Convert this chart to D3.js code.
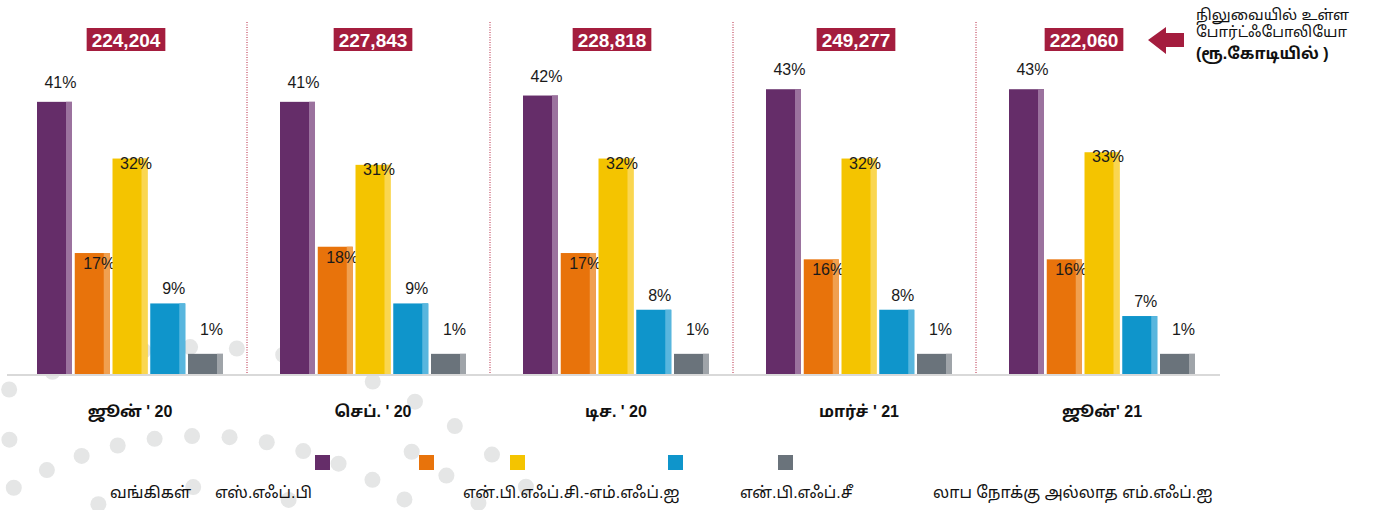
<!DOCTYPE html>
<html>
<head>
<meta charset="utf-8">
<script src="https://cdn.jsdelivr.net/npm/d3@7"></script>
<style>
  body { margin: 0; background: #fff; }
  svg text { font-family: "Liberation Sans", Arial, "Noto Sans Tamil", "Lohit Tamil", sans-serif; }
</style>
</head>
<body>
<div id="chart"></div>
<script>
// quarters and portfolio outstanding (Rs crore)
const categories = ["ஜூன் ' 20", "செப். ' 20", "டிச. ' 20", "மார்ச் ' 21", "ஜூன்' 21"];
const totals = [224204, 227843, 228818, 249277, 222060];

// share of portfolio by lender type (%)
const series = ["வங்கிகள்", "எஸ்.எஃப்.பி", "என்.பி.எஃப்.சி.-எம்.எஃப்.ஐ", "என்.பி.எஃப்.சீ", "லாப நோக்கு அல்லாத எம்.எஃப்.ஐ"];
const banks = [41, 41, 42, 43, 43];
const sfb = [17, 18, 17, 16, 16];
const nbfcMfi = [32, 31, 32, 32, 33];
const nbfc = [9, 9, 8, 8, 7];
const notForProfit = [1, 1, 1, 1, 1];

const noteLines = ["நிலுவையில் உள்ள", "போர்ட்ஃபோலியோ", "(ரூ.கோடியில் )"];

const colors = ["#652d69", "#e8730b", "#f4c400", "#0f95cb", "#6a737b"];
const lightColors = ["#9b729e", "#f0a050", "#fad650", "#58b6de", "#9fa4a9"];

const values = [banks, sfb, nbfcMfi, nbfc, notForProfit];
const rows = categories.map((c, i) => ({
    cat: c,
    total: totals[i],
    bars: series.map((s, j) => ({ key: s, idx: j, value: values[j][i] }))
}));

const W = 1385, H = 510;
const baseY = 374;
const crimson = "#a41d3e";

const svg = d3.select("#chart").append("svg")
    .attr("width", W)
    .attr("height", H);

svg.append("rect").attr("width", W).attr("height", H).attr("fill", "#fff");

// decorative dot arcs in the background
const dotCenter = [200, 797];
const arcs = [
    { r: 450, ks: d3.range(-4, 9) },
    { r: 405, ks: [-4.5, 5.5, 6.5, 7.5] },
    { r: 361, ks: d3.range(-5, 7) },
    { r: 310, ks: [-3, 0, 3] }
];
const dots = [];
arcs.forEach(a => a.ks.forEach(k => {
    const t = -0.022 + 0.104 * k;
    dots.push([dotCenter[0] + a.r * Math.sin(t), dotCenter[1] - a.r * Math.cos(t)]);
}));
svg.append("g").selectAll("circle")
    .data(dots)
    .join("circle")
    .attr("cx", d => d[0])
    .attr("cy", d => d[1])
    .attr("r", 8)
    .attr("fill", "#e5e6e6");

const x0 = d3.scaleBand()
    .domain(categories)
    .range([8.5, 8.5 + 243 * 5])
    .paddingInner(57 / 243)
    .paddingOuter(28.5 / 243);

const x1 = d3.scaleBand()
    .domain(series)
    .range([0, x0.bandwidth()])
    .paddingInner(0.073);

const y = d3.scaleLinear()
    .domain([-2.2, 45])
    .range([baseY, baseY - 47.2 * 6.3]);

// axis line
svg.append("line")
    .attr("x1", 7).attr("x2", 1220)
    .attr("y1", baseY + 1).attr("y2", baseY + 1)
    .attr("stroke", "#d9d9d9")
    .attr("stroke-width", 2);

// dotted separators
svg.append("g").selectAll("line")
    .data(categories.slice(1))
    .join("line")
    .attr("x1", d => x0(d) - 33).attr("x2", d => x0(d) - 33)
    .attr("y1", 22).attr("y2", baseY)
    .attr("stroke", "#b5233f")
    .attr("stroke-width", 1)
    .attr("stroke-dasharray", "1,1.5");

const groups = svg.append("g").selectAll("g")
    .data(rows)
    .join("g")
    .attr("transform", d => `translate(${x0(d.cat)},0)`);

const bar = groups.selectAll("g.bar")
    .data(d => d.bars)
    .join("g")
    .attr("class", "bar");

const stripW = 6;
bar.append("rect")
    .attr("x", d => x1(d.key))
    .attr("y", d => y(d.value))
    .attr("width", x1.bandwidth())
    .attr("height", d => baseY - y(d.value))
    .attr("fill", d => colors[d.idx]);

bar.append("rect")
    .attr("x", d => x1(d.key) + x1.bandwidth() - stripW)
    .attr("y", d => y(d.value))
    .attr("width", stripW)
    .attr("height", d => baseY - y(d.value))
    .attr("fill", d => lightColors[d.idx]);

// value label offsets per series: [dx from bar centre, dy from bar top]
const labelOffset = [[6, -14], [7, 16], [6, 10], [6, -9], [6, -19]];
bar.append("text")
    .attr("x", d => x1(d.key) + x1.bandwidth() / 2 + labelOffset[d.idx][0])
    .attr("y", d => y(d.value) + labelOffset[d.idx][1])
    .attr("text-anchor", "middle")
    .attr("font-size", 16)
    .attr("fill", "#1a1a1a")
    .text(d => d.value + "%");

// category labels
groups.append("text")
    .attr("x", x0.bandwidth() / 2)
    .attr("y", 417)
    .attr("text-anchor", "middle")
    .attr("font-size", 16)
    .attr("font-weight", "bold")
    .attr("fill", "#111")
    .text(d => d.cat);

// total boxes
const boxShift = [-4, 0, -4, -3, -18];
const fmt = d3.format(",");
groups.each(function (d, i) {
    const g = d3.select(this);
    const cx = x0.bandwidth() / 2 + boxShift[i];
    const box = g.append("rect")
        .attr("y", 28)
        .attr("height", 23)
        .attr("fill", crimson);
    const t = g.append("text")
        .attr("x", cx)
        .attr("y", 46.5)
        .attr("text-anchor", "middle")
        .attr("font-size", 19)
        .attr("font-weight", "bold")
        .attr("fill", "#fff")
        .text(fmt(d.total));
    const w = t.node().getComputedTextLength() + 10;
    box.attr("x", cx - w / 2).attr("width", w);
});

// arrow and note on the right
svg.append("path")
    .attr("d", "M1148,40 L1166,27 L1166,33 L1184,33 L1184,47 L1166,47 L1166,54 Z")
    .attr("fill", crimson);

svg.append("g").selectAll("text")
    .data(noteLines)
    .join("text")
    .attr("x", 1196)
    .attr("y", (d, i) => [20, 37, 59][i])
    .attr("font-size", (d, i) => i === 2 ? 16 : 15)
    .attr("font-weight", (d, i) => i === 2 ? "bold" : "normal")
    .attr("fill", "#111")
    .text(d => d);

// legend
const swatchX = [315, 419, 510, 668, 778];
const legendTextX = [110, 215, 463, 740, 933];
svg.append("g").selectAll("rect")
    .data(series)
    .join("rect")
    .attr("x", (d, i) => swatchX[i])
    .attr("y", 455)
    .attr("width", 15)
    .attr("height", 15)
    .attr("fill", (d, i) => colors[i]);

svg.append("g").selectAll("text")
    .data(series)
    .join("text")
    .attr("x", (d, i) => legendTextX[i])
    .attr("y", 498)
    .attr("font-size", 16)
    .attr("fill", "#111")
    .text(d => d);
</script>
</body>
</html>
